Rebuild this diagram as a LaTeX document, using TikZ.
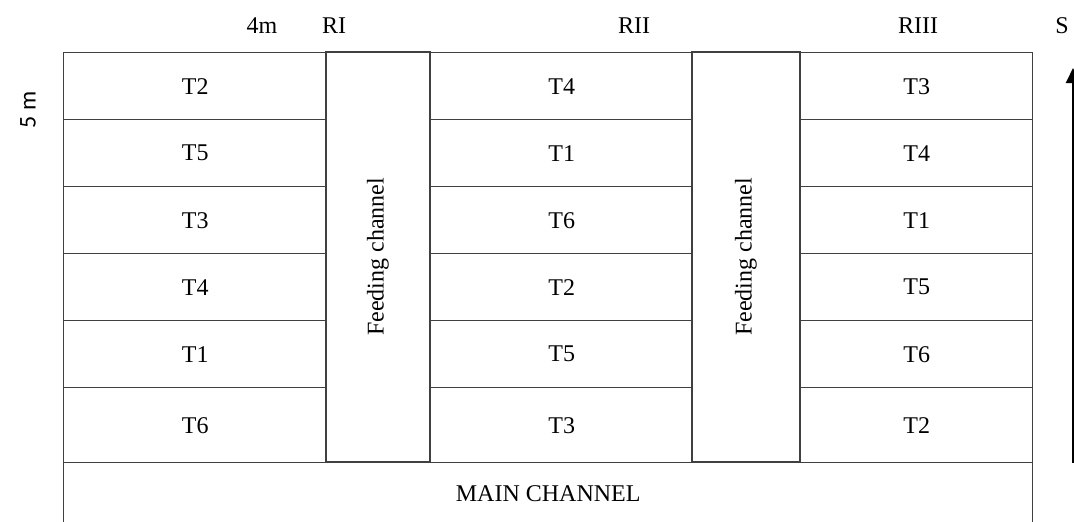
\documentclass[tikz,border=0pt]{standalone}
\usepackage{fontspec}
\setmainfont{Liberation Serif}
\newfontfamily\sidefont{Carlito}
\usetikzlibrary{arrows.meta}

\begin{document}
\begin{tikzpicture}[x=1pt,y=-1pt]
   \tikzstyle{every node}=[font=\fontsize{24}{28}\selectfont, inner sep=0pt]
   \tikzstyle{plot}=[draw=black!75, line width=1.4pt, anchor=north west]
   \tikzstyle{toplabel}=[anchor=base]

\useasboundingbox (0,0) rectangle (1074,522);
\clip (0,0) rectangle (1074,522);

% plots of the three replications
\foreach \top/\h/\ra/\rb/\rc [count=\i] in
   {52/67/T2/T4/T3, 119/67/T5/T1/T4, 186/67/T3/T6/T1,
    253/67/T4/T2/T5, 320/67/T1/T5/T6, 387/75/T6/T3/T2} {
   \node[plot, minimum width=263pt, minimum height=\h pt] (ri\i) at (63,\top) {\ra};
   \node[plot, minimum width=262pt, minimum height=\h pt] (rii\i) at (430,\top) {\rb};
   \node[plot, minimum width=232pt, minimum height=\h pt] (riii\i) at (800,\top) {\rc};
}

% feeding channels
\node[plot, anchor=center, rotate=90, minimum width=410pt, minimum height=104pt] (feedA) at (378,257) {Feeding channel};
\node[plot, anchor=center, rotate=90, minimum width=410pt, minimum height=108pt] (feedB) at (746,257) {Feeding channel};

% main channel
\node[plot, minimum width=969pt, minimum height=62pt] (main) at (63,462) {MAIN CHANNEL};

% labels on top
\node[toplabel] (width) at (262,34) {4m};
\node[toplabel] (repA) at (334,34) {RI};
\node[toplabel] (repB) at (634,34) {RII};
\node[toplabel] (repC) at (918,34) {RIII};
\node[toplabel] (slope) at (1062,34) {S};
\node[rotate=90, font=\sidefont\fontsize{24}{28}\selectfont] (length) at (28,110) {5 m};

% slope arrow
\coordinate (sbot) at (1073,463);
\coordinate (stop) at (1073,68);
\draw[line width=2pt, -{Triangle[width=14pt,length=15pt]}] (sbot) -- (stop);

\end{tikzpicture}
\end{document}
